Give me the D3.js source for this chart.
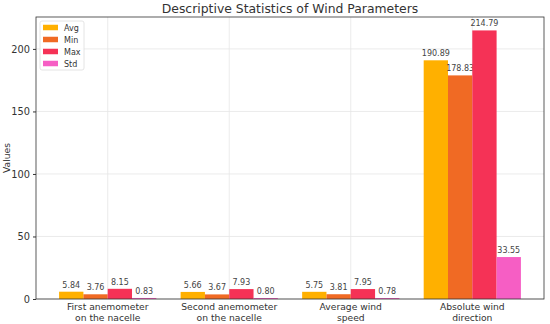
<!DOCTYPE html>
<html>
<head>
<meta charset="utf-8">
<script src="https://cdn.jsdelivr.net/npm/d3@7.9.0/dist/d3.min.js"></script>
<style>
  body { margin: 0; background: #fff; }
  svg { font-family: "DejaVu Sans", sans-serif; }
</style>
</head>
<body>
<svg id="chart" width="550" height="324"></svg>
<script>
const categories = [
  ['First anemometer', 'on the nacelle'],
  ['Second anemometer', 'on the nacelle'],
  ['Average wind', 'speed'],
  ['Absolute wind', 'direction']
];
const seriesNames = ['Avg', 'Min', 'Max', 'Std'];
const avgValues = [5.84, 5.66, 5.75, 190.89];
const minValues = [3.76, 3.67, 3.81, 178.83];
const maxValues = [8.15, 7.93, 7.95, 214.79];
const stdValues = [0.83, 0.80, 0.78, 33.55];
const yTicks = [0, 50, 100, 150, 200];
const colors = ['#ffb000', '#f06a24', '#f53256', '#f65ec4'];

const allValues = [avgValues, minValues, maxValues, stdValues];
const margin = { top: 17, right: 6, bottom: 25, left: 36 };
const width = 550, height = 324;
const innerW = width - margin.left - margin.right;
const innerH = height - margin.top - margin.bottom;

const svg = d3.select('#chart');
const g = svg.append('g').attr('transform', `translate(${margin.left},${margin.top})`);

const x = d3.scaleBand()
  .domain(d3.range(categories.length))
  .range([0, innerW])
  .paddingInner(0.2)
  .paddingOuter(0.19);
const xs = d3.scaleBand()
  .domain(seriesNames)
  .range([0, x.bandwidth()]);
const y = d3.scaleLinear()
  .domain([0, 214.79 * 1.05])
  .range([innerH, 0]);

// grid
g.append('g').selectAll('line')
  .data(yTicks)
  .join('line')
  .attr('x1', 0).attr('x2', innerW)
  .attr('y1', d => y(d)).attr('y2', d => y(d))
  .attr('stroke', '#e6e6e6').attr('stroke-width', 0.8);
g.append('g').selectAll('line')
  .data(d3.range(categories.length))
  .join('line')
  .attr('x1', d => x(d) + x.bandwidth() / 2).attr('x2', d => x(d) + x.bandwidth() / 2)
  .attr('y1', 0).attr('y2', innerH)
  .attr('stroke', '#e6e6e6').attr('stroke-width', 0.8);

// bars
seriesNames.forEach((name, si) => {
  const grp = g.append('g');
  grp.selectAll('rect')
    .data(allValues[si])
    .join('rect')
    .attr('x', (d, i) => x(i) + xs(name))
    .attr('y', d => y(d))
    .attr('width', xs.bandwidth())
    .attr('height', d => innerH - y(d))
    .attr('fill', colors[si]);
  grp.selectAll('text')
    .data(allValues[si])
    .join('text')
    .attr('x', (d, i) => x(i) + xs(name) + xs.bandwidth() / 2)
    .attr('y', d => y(d) - 4)
    .attr('text-anchor', 'middle')
    .attr('font-size', 8)
    .attr('fill', '#444')
    .text(d => d.toFixed(2));
});

// axes
const yAxis = g.append('g')
  .call(d3.axisLeft(y).tickValues(yTicks).tickSize(3).tickPadding(3));
yAxis.select('.domain').remove();
yAxis.selectAll('line').attr('stroke', '#333');
yAxis.selectAll('text').attr('font-size', 9.8).attr('fill', '#333').attr('font-family', 'DejaVu Sans');

const xAxis = g.append('g')
  .attr('transform', `translate(0,${innerH})`)
  .call(d3.axisBottom(x).tickSize(0).tickFormat(''));
xAxis.select('.domain').remove();
xAxis.selectAll('.tick').each(function (d) {
  const t = d3.select(this).append('text')
    .attr('text-anchor', 'middle')
    .attr('font-size', 9.2)
    .attr('fill', '#333')
    .attr('font-family', 'DejaVu Sans');
  categories[d].forEach((line, li) => {
    t.append('tspan').attr('x', 0).attr('y', 11 + li * 10.5).text(line);
  });
});

// frame
g.append('rect')
  .attr('width', innerW).attr('height', innerH)
  .attr('fill', 'none').attr('stroke', '#333').attr('stroke-width', 0.8);

// y label
svg.append('text')
  .attr('transform', `translate(10,${margin.top + innerH / 2}) rotate(-90)`)
  .attr('text-anchor', 'middle')
  .attr('font-size', 9.2)
  .attr('fill', '#333')
  .text('Values');

// title
svg.append('text')
  .attr('x', margin.left + innerW / 2)
  .attr('y', 13)
  .attr('text-anchor', 'middle')
  .attr('font-size', 12.4)
  .attr('fill', '#333')
  .text('Descriptive Statistics of Wind Parameters');

// legend
const legend = g.append('g').attr('transform', 'translate(4,4)');
legend.append('rect')
  .attr('width', 44).attr('height', 49)
  .attr('fill', '#fff').attr('fill-opacity', 0.8)
  .attr('stroke', '#ddd').attr('stroke-width', 0.8).attr('rx', 2);
seriesNames.forEach((name, i) => {
  const row = legend.append('g').attr('transform', `translate(3,${6.5 + i * 12})`);
  row.append('rect').attr('width', 15).attr('height', 5.5).attr('y', -2.75).attr('fill', colors[i]);
  row.append('text').attr('x', 21).attr('y', 3).attr('font-size', 8).attr('fill', '#333').text(name);
});
</script>
</body>
</html>
